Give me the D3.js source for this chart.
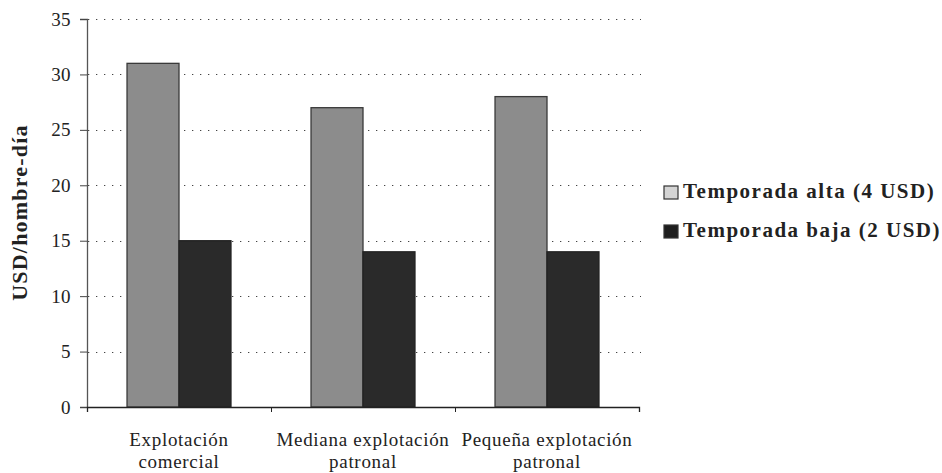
<!DOCTYPE html>
<html>
<head>
<meta charset="utf-8">
<script src="https://cdn.jsdelivr.net/npm/d3@7"></script>
<style>
  html, body { margin: 0; padding: 0; background: #fff; }
  svg { display: block; }
</style>
</head>
<body>
<svg id="chart" width="942" height="473"></svg>
<script>
// Daily wage per worker by farm type and season
const categories = ["Explotación comercial", "Mediana explotación patronal", "Pequeña explotación patronal"];
const categoryLines = [["Explotación", "comercial"], ["Mediana explotación", "patronal"], ["Pequeña explotación", "patronal"]];
const seriesNames = ["Temporada alta (4 USD)", "Temporada baja (2 USD)"];
const altaValues = [31, 27, 28];
const bajaValues = [15, 14, 14];
const yTicks = [0, 5, 10, 15, 20, 25, 30, 35];
const yTitle = "USD/hombre-día";

(function () {
  const FONT = '"Liberation Serif", monospace';
  const seriesColors = { fill: ["#8c8c8c", "#2a2a2a"], stroke: ["#3a3a3a", "#222"] };

  const svg = d3.select("#chart");
  const plotLeft = 87, plotRight = 639, plotTop = 19, plotBottom = 407;

  const x0 = d3.scaleBand().domain(categories).range([plotLeft, plotRight]).padding(0);
  const x1 = d3.scaleBand().domain(seriesNames).range([0, x0.bandwidth()]).paddingInner(0).paddingOuter(0.77);
  const y = d3.scaleLinear().domain([0, 35]).range([plotBottom, plotTop]);

  // dotted gridlines
  svg.append("g")
    .selectAll("line")
    .data(yTicks.filter(d => d > 0))
    .join("line")
    .attr("x1", plotLeft + 1).attr("x2", plotRight + 2)
    .attr("y1", d => Math.round(y(d)) + 0.5).attr("y2", d => Math.round(y(d)) + 0.5)
    .attr("stroke", "#444").attr("stroke-width", 1.2)
    .attr("stroke-dasharray", "1.3,6.7");

  // bars
  const rows = categories.map((c, i) => ({ cat: c, vals: [altaValues[i], bajaValues[i]] }));
  const groups = svg.append("g").selectAll("g")
    .data(rows).join("g")
    .attr("transform", d => `translate(${x0(d.cat)},0)`);

  groups.selectAll("rect")
    .data(d => d.vals.map((v, k) => ({ key: seriesNames[k], v, k })))
    .join("rect")
    .attr("x", d => x1(d.key))
    .attr("y", d => y(d.v))
    .attr("width", x1.bandwidth())
    .attr("height", d => plotBottom - y(d.v))
    .attr("fill", d => seriesColors.fill[d.k])
    .attr("stroke", d => seriesColors.stroke[d.k])
    .attr("stroke-width", 1.3);

  // y axis
  const yAxis = svg.append("g")
    .attr("transform", `translate(${plotLeft},0)`)
    .call(d3.axisLeft(y).tickValues(yTicks).tickSize(7).tickPadding(9).tickFormat(d3.format("d")));
  yAxis.attr("font-family", FONT).attr("font-size", 19);
  yAxis.select(".domain").attr("stroke", "#555").attr("stroke-width", 1.3);
  yAxis.selectAll(".tick line").attr("stroke", "#444");
  yAxis.selectAll(".tick text")
    .attr("font-family", FONT)
    .attr("font-size", 19)
    .attr("letter-spacing", 0.4)
    .attr("fill", "#222");

  // x axis with ticks at category boundaries
  const xb = d3.scaleLinear().domain([0, categories.length]).range([plotLeft, plotRight]);
  const xAxis = svg.append("g")
    .attr("transform", `translate(0,${plotBottom})`)
    .call(d3.axisBottom(xb).tickValues(d3.range(0, categories.length + 1)).tickSize(5).tickFormat(""));
  xAxis.select(".domain").attr("stroke", "#222").attr("stroke-width", 1.3);
  xAxis.selectAll(".tick line").attr("stroke", "#222");

  // category labels
  const catLabels = svg.append("g").selectAll("text")
    .data(categories).join("text")
    .attr("x", d => x0(d) + x0.bandwidth() / 2)
    .attr("y", 446)
    .attr("text-anchor", "middle")
    .attr("font-family", FONT)
    .attr("font-size", 19)
    .attr("letter-spacing", 0.7)
    .attr("fill", "#222");
  catLabels.each(function (d, i) {
    const t = d3.select(this);
    categoryLines[i].forEach((line, j) => {
      t.append("tspan")
        .attr("x", x0(d) + x0.bandwidth() / 2)
        .attr("dy", j === 0 ? 0 : 22)
        .text(line);
    });
  });

  // y title
  svg.append("text")
    .attr("transform", `translate(27,${(125 + 300) / 2}) rotate(-90)`)
    .attr("text-anchor", "middle")
    .attr("font-family", FONT)
    .attr("font-size", 22)
    .attr("font-weight", "bold")
    .attr("letter-spacing", 1.2)
    .attr("fill", "#222")
    .text(yTitle);

  // legend
  const legendFill = ["#d4d4d4", "#1e1e1e"];
  const legend = svg.append("g").selectAll("g")
    .data(seriesNames).join("g")
    .attr("transform", (d, i) => `translate(664,${186 + i * 39})`);
  legend.append("rect")
    .attr("width", 14).attr("height", 13)
    .attr("fill", (d, i) => legendFill[i])
    .attr("stroke", "#333").attr("stroke-width", 1.2);
  legend.append("text")
    .attr("x", 19).attr("y", 12)
    .attr("font-family", FONT)
    .attr("font-size", 21)
    .attr("font-weight", "bold")
    .attr("letter-spacing", 1.5)
    .attr("fill", "#222")
    .text(d => d);
})();
</script>
</body>
</html>
